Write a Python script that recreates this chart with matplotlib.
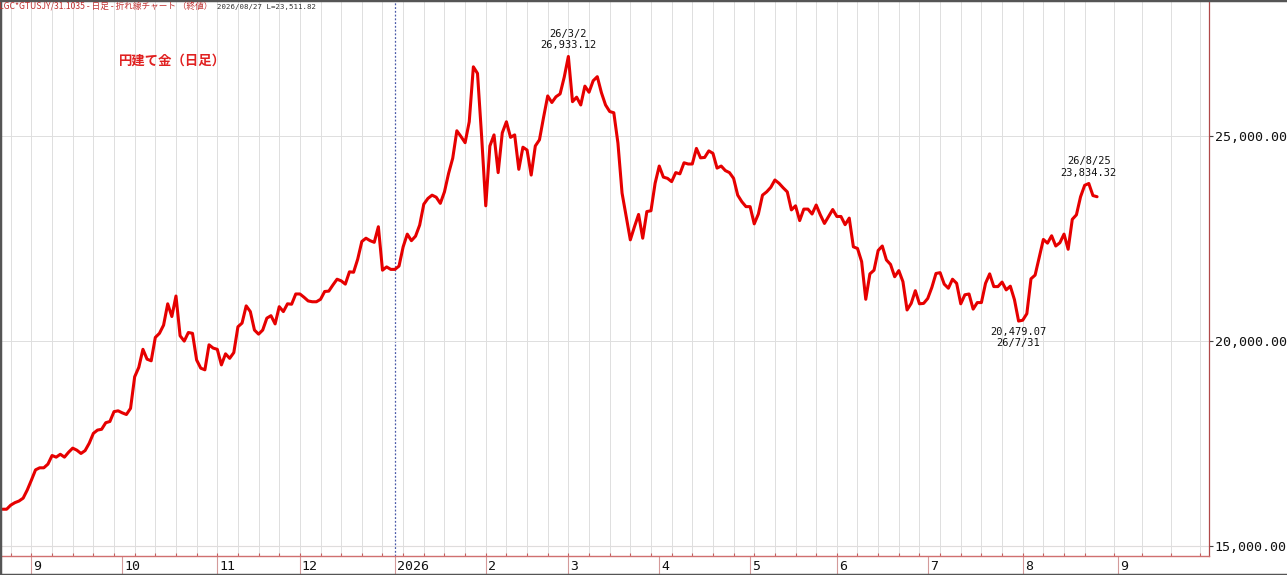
"""
円建て金（日足） 折れ線チャート
"""
import matplotlib
matplotlib.use("Agg")
import matplotlib.pyplot as plt
from matplotlib.lines import Line2D
import numpy as np
import pandas as pd

START = "2025-08-21"   # first bar (business days, one value per day)

close = [
    15890, 15890, 15990, 16050, 16090, 16160, 16360, 16600, 16850, 16900,
    16900, 16990, 17200, 17160, 17230, 17160, 17280, 17380, 17330, 17250,
    17320, 17500, 17740, 17820, 17840, 18000, 18030, 18270, 18290, 18240,
    18200, 18350, 19120, 19350, 19790, 19550, 19510, 20080, 20180, 20380,
    20900, 20590, 21090, 20120, 19990, 20200, 20180, 19530, 19330, 19290,
    19900, 19820, 19790, 19410, 19680, 19570, 19710, 20340, 20430, 20850,
    20710, 20260, 20160, 20260, 20550, 20610, 20410, 20830, 20710, 20900,
    20890, 21140, 21140, 21060, 20970, 20950, 20950, 21010, 21200, 21210,
    21360, 21500, 21460, 21380, 21680, 21670, 21990, 22420, 22500, 22440,
    22400, 22780, 21720, 21800, 21740, 21740, 21820, 22290, 22600, 22440,
    22550, 22820, 23330, 23470, 23550, 23500, 23350, 23630, 24080, 24450,
    25120, 24980, 24830, 25340, 26680, 26520, 24980, 23290, 24750, 25020,
    24100, 25070, 25340, 24960, 25020, 24180, 24720, 24650, 24040, 24750,
    24900, 25450, 25970, 25810, 25950, 26020, 26430, 26933.12, 25830, 25940,
    25750, 26210, 26060, 26340, 26440, 26050, 25750, 25590, 25560, 24820,
    23600, 23030, 22460, 22780, 23080, 22500, 23150, 23170, 23840, 24260,
    23990, 23960, 23880, 24100, 24070, 24340, 24310, 24310, 24690, 24460,
    24470, 24630, 24570, 24210, 24260, 24150, 24100, 23960, 23550, 23390,
    23270, 23270, 22850, 23090, 23550, 23630, 23740, 23920, 23840, 23730,
    23630, 23190, 23290, 22930, 23210, 23210, 23090, 23310, 23070, 22860,
    23030, 23200, 23030, 23030, 22830, 22990, 22290, 22250, 21930, 21010,
    21630, 21720, 22200, 22310, 21970, 21860, 21560, 21710, 21440, 20750,
    20910, 21220, 20900, 20910, 21030, 21300, 21640, 21660, 21380, 21280,
    21500, 21400, 20900, 21120, 21140, 20770, 20930, 20930, 21400, 21630,
    21320, 21320, 21430, 21240, 21330, 21000, 20479.07, 20500, 20660, 21510,
    21600, 22040, 22470, 22380, 22560, 22310, 22390, 22600, 22230, 22960,
    23070, 23510, 23790, 23834.32, 23540, 23511.82,
]

y_ticks = [15000, 20000, 25000]
marks = [("2026-03-02", "above"), ("2026-07-31", "below"), ("2026-08-25", "above")]
header = "LGC*GTUSJY/31.1035 - 日足 - 折れ線チャート （終値）"
title = "円建て金（日足）"

JP = ["Noto Sans CJK JP", "DejaVu Sans"]
MONO = "DejaVu Sans Mono"
W, H = 1287, 575

# bars: business days for data, calendar days for the empty future part
bdays = pd.bdate_range(START, periods=len(close))
future = pd.date_range(bdays[-1] + pd.Timedelta(days=1), periods=30, freq="D")
dates = bdays.append(future)
pos = np.arange(len(dates))

month_pos = [i for i in range(1, len(dates)) if dates[i].month != dates[i - 1].month]
month_lbl = [str(dates[i].year) if dates[i].month == 1 else str(dates[i].month) for i in month_pos]
mondays = [i for i, d in enumerate(dates) if d.weekday() == 0]
year_pos = [i for i in month_pos if dates[i].month == 1]

fig = plt.figure(figsize=(W / 100, H / 100), dpi=100, facecolor="white")
ax = fig.add_axes([2 / W, 19 / H, 1207 / W, 556 / H])

ax.plot(pos[:len(close)], close, color="#e60000", lw=2.2, solid_joinstyle="round",
        solid_capstyle="round", zorder=3)
ax.set_xlim(-0.12, 292.1)
ax.set_ylim(14749, 28310)

# x axis: month ticks down into the strip, weekly ticks + grid on Mondays
ax.xaxis.remove_overlapping_locs = False
ax.set_xticks(month_pos)
ax.set_xticks(mondays, minor=True)
ax.tick_params(axis="x", which="major", direction="out", length=13.7, width=0.8,
               color="#d49a9a", labelbottom=False)
ax.tick_params(axis="x", which="minor", direction="in", length=2.5, width=0.8,
               color="#c06060")
ax.grid(which="minor", axis="x", color="#dedede", lw=0.7, zorder=0)
for p, lbl in zip(month_pos, month_lbl):
    ax.annotate(lbl, xy=(p, 0), xycoords=("data", "axes fraction"), xytext=(2, -10),
                textcoords="offset pixels", ha="left", va="center", fontsize=9.5,
                family=MONO, color="#111111", annotation_clip=False)

# y axis on the right
ax.yaxis.tick_right()
ax.set_yticks(y_ticks, labels=[f"{v:,.2f}" for v in y_ticks])
ax.tick_params(axis="y", direction="out", length=3, width=0.8, color="#444444",
               labelsize=9.6, pad=1, labelcolor="#111111", labelfontfamily=MONO)
ax.grid(which="major", axis="y", color="#dedede", lw=0.7, zorder=0)
ax.axhline(y_ticks[0], color="#f2c4c4", lw=0.8, zorder=1)

for p in year_pos:
    ax.axvline(p, color="#4a5aa8", lw=0.9, ls=(0, (1.5, 1.5)), zorder=1)

ax.spines["left"].set_visible(False)
ax.spines["top"].set_visible(False)
ax.spines["right"].set_color("#b04848")
ax.spines["right"].set_linewidth(0.9)
ax.spines["bottom"].set_color("#d07070")
ax.spines["bottom"].set_linewidth(1.0)

# date / value labels
for d, side in marks:
    i = dates.get_loc(pd.Timestamp(d))
    v = close[i]
    dlbl = f"{dates[i].year % 100}/{dates[i].month}/{dates[i].day}"
    vlbl = f"{v:,.2f}"
    if side == "above":
        txt, dy, va = f"{dlbl}\n{vlbl}", 6, "bottom"
    else:
        txt, dy, va = f"{vlbl}\n{dlbl}", -6, "top"
    ax.annotate(txt, xy=(i, v), xytext=(0, dy), textcoords="offset pixels",
                ha="center", va=va, multialignment="center", fontsize=7.5,
                family=MONO, color="#111111", linespacing=1.15, zorder=4)

# header line and title
fig.text(-1 / W, 1 - 7 / H, header, color="#c03030", fontsize=6.2, family=JP,
         ha="left", va="center")
fig.text(217 / W, 1 - 7 / H, f"{bdays[-1]:%Y/%m/%d} L={close[-1]:,.2f}",
         color="#333333", fontsize=5.3, family=MONO, ha="left", va="center")
fig.text(172 / W, 1 - 61 / H, title, color="#e02020", fontsize=9.6, fontweight="bold",
         family=JP, ha="center", va="center")

# outer frame (top, left, bottom)
for xs, ys in [([0, 1], [1, 1]), ([0, 0], [0, 1]), ([0, 1], [0, 0])]:
    fig.add_artist(Line2D(xs, ys, transform=fig.transFigure, color="#555555", lw=2.5))

fig.savefig("out.png", dpi=100)
plt.close(fig)
